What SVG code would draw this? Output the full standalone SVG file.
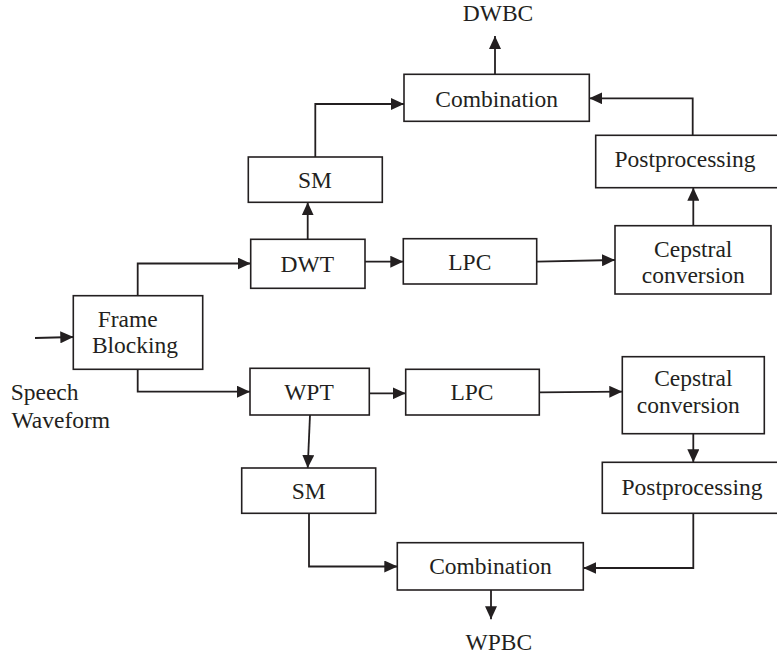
<svg xmlns="http://www.w3.org/2000/svg" width="777" height="657" viewBox="0 0 777 657">
<defs>
<style>
.box{fill:#fff;stroke:#231f20;stroke-width:1.6}
.lbl{font-family:"Liberation Serif","Times New Roman",serif;font-size:23.5px;fill:#231f20;text-anchor:middle}
.lft{text-anchor:start}
.con{fill:none;stroke:#231f20;stroke-width:1.8;marker-end:url(#ah)}
</style>
<marker id="ah" viewBox="0 0 13 12" refX="13" refY="6" markerWidth="13" markerHeight="12" markerUnits="userSpaceOnUse" orient="auto">
<path d="M0,0 L13,6 L0,12 Z" fill="#231f20"/>
</marker>
</defs>
<rect width="777" height="657" fill="#fff"/>
<g id="connectors">
<path class="con" d="M35,338 L73.3,337"/>
<path class="con" d="M137.7,295.7 V263.5 H250.7"/>
<path class="con" d="M137.7,369.3 V391.7 H250"/>
<path class="con" d="M307.7,239.3 V202.3"/>
<path class="con" d="M315.3,157 V104 H404"/>
<path class="con" d="M495,74.3 V36"/>
<path class="con" d="M365,261.7 H403.3"/>
<path class="con" d="M536.7,261.7 L615,260"/>
<path class="con" d="M693.3,225.7 V187.7"/>
<path class="con" d="M692.7,135.3 V98.3 H589.3"/>
<path class="con" d="M369.3,393.3 H405.7"/>
<path class="con" d="M539.3,392.3 L622.3,391.7"/>
<path class="con" d="M693.3,433.3 V462.3"/>
<path class="con" d="M693.3,513.3 V568 H583.3"/>
<path class="con" d="M310,415 L307.7,468"/>
<path class="con" d="M309,513.3 V566.5 H397.3"/>
<path class="con" d="M491,590 V619.3"/>
</g>
<g id="frame-blocking">
<rect class="box" x="73.3" y="295.7" width="129.4" height="73.6"/>
<text class="lbl" x="127.7" y="326.7">Frame</text>
<text class="lbl" x="135" y="353.3">Blocking</text>
</g>
<g id="speech-waveform">
<text class="lbl lft" x="10.7" y="400">Speech</text>
<text class="lbl lft" x="11.5" y="427.7">Waveform</text>
</g>
<g id="dwt">
<rect class="box" x="250.7" y="239.3" width="114.3" height="49"/>
<text class="lbl" x="307.3" y="271.7">DWT</text>
</g>
<g id="sm-top">
<rect class="box" x="248.3" y="157" width="134" height="45.3"/>
<text class="lbl" x="315" y="188">SM</text>
</g>
<g id="combination-top">
<rect class="box" x="404" y="74.3" width="185.3" height="47"/>
<text class="lbl" x="496.7" y="106.5">Combination</text>
</g>
<g id="dwbc">
<text class="lbl" x="498" y="21">DWBC</text>
</g>
<g id="lpc-top">
<rect class="box" x="403.3" y="238.7" width="133.4" height="45.3"/>
<text class="lbl" x="469.8" y="270">LPC</text>
</g>
<g id="cepstral-top">
<rect class="box" x="615" y="225.7" width="156" height="68.3"/>
<text class="lbl" x="693.2" y="256.7">Cepstral</text>
<text class="lbl" x="693.3" y="283.3">conversion</text>
</g>
<g id="postprocessing-top">
<rect class="box" x="595.7" y="135.3" width="195" height="52.4"/>
<text class="lbl" x="685" y="166.7">Postprocessing</text>
</g>
<g id="wpt">
<rect class="box" x="250" y="368.3" width="119.3" height="46.7"/>
<text class="lbl" x="309" y="400">WPT</text>
</g>
<g id="lpc-bottom">
<rect class="box" x="405.7" y="369.3" width="133.6" height="45.7"/>
<text class="lbl" x="472" y="400">LPC</text>
</g>
<g id="cepstral-bottom">
<rect class="box" x="622.3" y="356.7" width="142" height="77"/>
<text class="lbl" x="693.3" y="386">Cepstral</text>
<text class="lbl" x="688.3" y="413.3">conversion</text>
</g>
<g id="postprocessing-bottom">
<rect class="box" x="602.3" y="462.3" width="190" height="51"/>
<text class="lbl" x="692" y="495">Postprocessing</text>
</g>
<g id="sm-bottom">
<rect class="box" x="241.7" y="468" width="134" height="45.3"/>
<text class="lbl" x="308.7" y="499">SM</text>
</g>
<g id="combination-bottom">
<rect class="box" x="397.3" y="542.7" width="186" height="47.3"/>
<text class="lbl" x="490.5" y="574">Combination</text>
</g>
<g id="wpbc">
<text class="lbl" x="498.8" y="650">WPBC</text>
</g>
</svg>
